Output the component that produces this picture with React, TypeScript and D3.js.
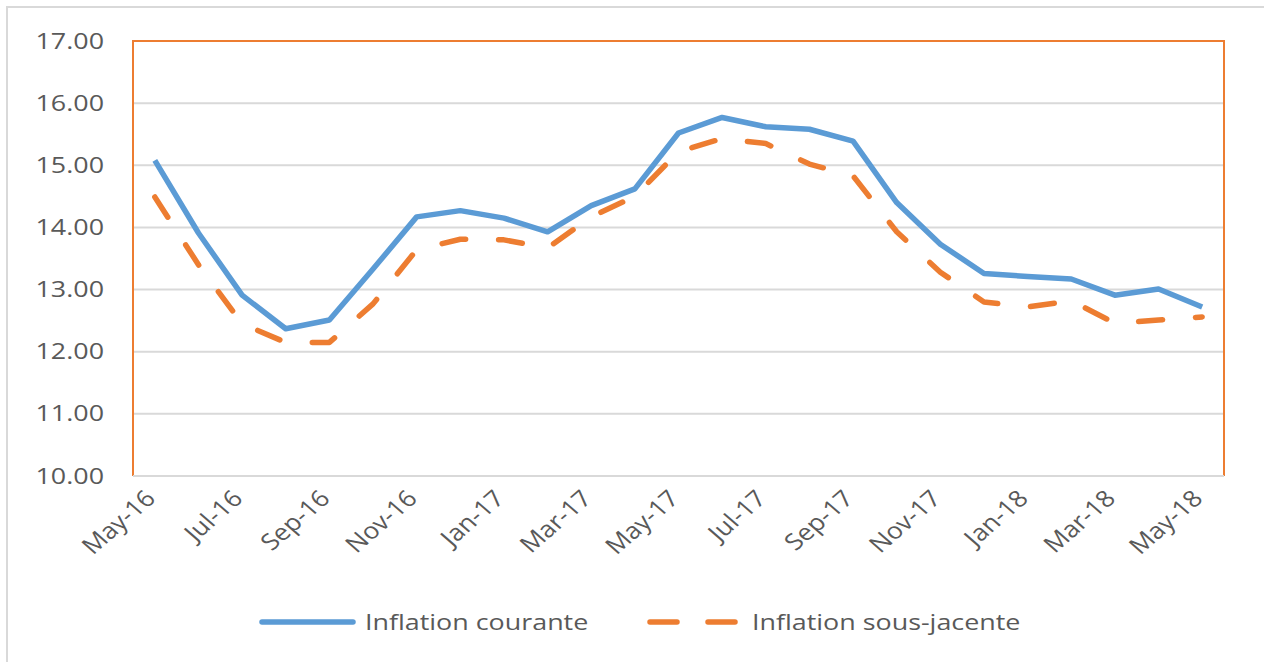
import React from 'react';
import * as d3 from 'd3';

// months May-16 .. May-18
const months = ['May-16', 'Jun-16', 'Jul-16', 'Aug-16', 'Sep-16', 'Oct-16', 'Nov-16', 'Dec-16',
  'Jan-17', 'Feb-17', 'Mar-17', 'Apr-17', 'May-17', 'Jun-17', 'Jul-17', 'Aug-17', 'Sep-17',
  'Oct-17', 'Nov-17', 'Dec-17', 'Jan-18', 'Feb-18', 'Mar-18', 'Apr-18', 'May-18'];

const courante = [15.08, 13.91, 12.91, 12.37, 12.51, 13.33, 14.17, 14.27, 14.15, 13.93, 14.35, 14.62,
  15.52, 15.77, 15.62, 15.58, 15.39, 14.40, 13.73, 13.26, 13.21, 13.17, 12.91, 13.01, 12.72];

const sousJacente = [14.49, 13.40, 12.45, 12.15, 12.15, 12.77, 13.64, 13.81, 13.80, 13.67, 14.17, 14.50,
  15.22, 15.43, 15.35, 15.02, 14.83, 13.93, 13.28, 12.80, 12.72, 12.82, 12.46, 12.51, 12.56];

const yTicks = [10, 11, 12, 13, 14, 15, 16, 17];

const blue = '#5B9BD5';
const orange = '#ED7D31';
const textColor = '#595959';
const grid = '#D9D9D9';
const font = '"Open Sans", sans-serif';
const sx = 1.28; // the picture is stretched horizontally

export default function App() {
  const left = 133, right = 1224, top = 41, bottom = 476;

  const x = d3.scalePoint<string>().domain(months).range([left, right]).padding(0.5);
  const y = d3.scaleLinear().domain([10, 17]).range([bottom, top]);

  const line = d3.line<number>()
    .x((d, i) => x(months[i]) as number)
    .y(d => y(d));

  const xLabels = months.filter((m, i) => i % 2 === 0);

  return (
    <div style={{position: 'absolute', left: 0, top: 0}}>
      <svg width={1264} height={662} style={{display: 'block'}}>
        <rect x={0} y={0} width={1264} height={662} fill="#fff"/>
        <rect x={7} y={7} width={1300} height={700} fill="none" stroke={grid} strokeWidth={2}/>

        {yTicks.map(t => (
          <g key={t}>
            {t > 10 && t < 17 &&
              <line x1={left} x2={right} y1={y(t)} y2={y(t)} stroke={grid} strokeWidth={2}/>}
            <text transform={`translate(104,${y(t)}) scale(${sx},1)`} dy="0.36em" textAnchor="end"
                  fontFamily={font} fontSize={21} fill={textColor}>{t.toFixed(2)}</text>
          </g>
        ))}

        {/* plot area border: orange left/top/right, grey axis at the bottom */}
        <path d={`M${left},${bottom} V${top} H${right} V${bottom}`} fill="none" stroke={orange} strokeWidth={2}/>
        <line x1={left} x2={right} y1={bottom} y2={bottom} stroke={grid} strokeWidth={2}/>

        {xLabels.map(m => (
          <text key={m} transform={`translate(${(x(m) as number) + 2},${bottom + 24}) scale(1.15,1) rotate(-45)`}
                textAnchor="end" fontFamily={font} fontSize={23} fill={textColor}>{m}</text>
        ))}

        <path d={line(sousJacente) || ''} fill="none" stroke={orange} strokeWidth={5.5}
              strokeDasharray="24,33" strokeLinecap="round" strokeLinejoin="round"/>
        <path d={line(courante) || ''} fill="none" stroke={blue} strokeWidth={5.5}
              strokeLinejoin="round"/>

        {/* legend */}
        <line x1={262} x2={353} y1={622} y2={622} stroke={blue} strokeWidth={5.5} strokeLinecap="round"/>
        <text transform={`translate(365,622) scale(${sx},1)`} dy="0.36em" fontFamily={font} fontSize={21}
              fill={textColor}>Inflation courante</text>
        <line x1={650} x2={738} y1={622} y2={622} stroke={orange} strokeWidth={5.5} strokeLinecap="round"
              strokeDasharray="27,31"/>
        <text transform={`translate(752,622) scale(${sx},1)`} dy="0.36em" fontFamily={font} fontSize={21}
              fill={textColor}>Inflation sous-jacente</text>
      </svg>
    </div>
  );
}
